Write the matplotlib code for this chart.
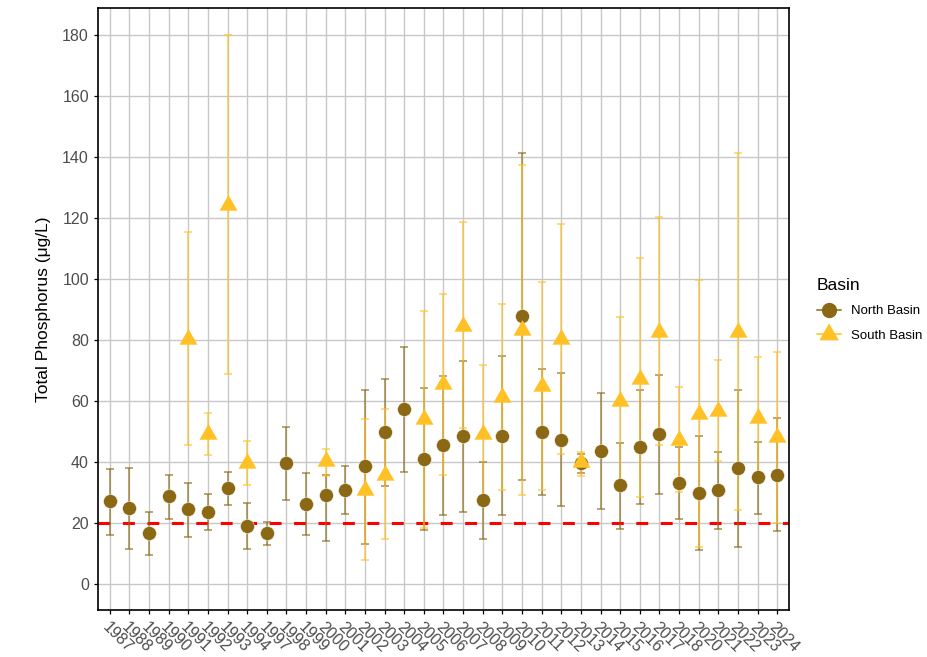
import numpy as np
import matplotlib
matplotlib.use("Agg")
import matplotlib.pyplot as plt
from matplotlib.lines import Line2D

plt.rcParams['font.family'] = ['Liberation Sans', 'DejaVu Sans']
plt.rcParams['lines.scale_dashes'] = False

nan = np.nan

years = ['1987', '1988', '1989', '1990', '1991', '1992', '1993', '1994', '1997', '1998',
         '1999', '2000', '2001', '2002', '2003', '2004', '2005', '2006', '2007', '2008',
         '2009', '2010', '2011', '2012', '2013', '2014', '2015', '2016', '2017', '2018',
         '2020', '2021', '2022', '2023', '2024']

# North Basin: mean, lower, upper
north_mean = [27.0, 24.7, 16.5, 28.7, 24.4, 23.5, 31.3, 18.9, 16.5, 39.5,
              26.1, 29.1, 30.7, 38.7, 49.7, 57.2, 41.0, 45.4, 48.4, 27.5,
              48.6, 87.8, 49.7, 47.3, 39.6, 43.6, 32.5, 44.9, 49.1, 33.1,
              29.8, 30.8, 37.9, 34.9, 35.8]
north_lo = [16.1, 11.3, 9.5, 21.2, 15.5, 17.7, 25.8, 11.5, 12.7, 27.4,
            16.1, 14.1, 23.0, 13.2, 32.2, 36.6, 17.6, 22.5, 23.5, 14.8,
            22.5, 34.1, 29.1, 25.4, 36.2, 24.4, 18.1, 26.1, 29.4, 21.3,
            11.1, 18.1, 12.1, 23.0, 17.4]
north_hi = [37.5, 38.0, 23.5, 35.8, 33.0, 29.3, 36.5, 26.6, 20.1, 51.5,
            36.2, 35.6, 38.6, 63.7, 67.2, 77.7, 64.3, 68.1, 73.1, 39.8,
            74.6, 141.3, 70.5, 69.1, 42.5, 62.6, 46.3, 63.5, 68.5, 44.9,
            48.4, 43.3, 63.5, 46.4, 54.4]

# South Basin: mean, lower, upper (nan = no sample)
south_mean = [nan, nan, nan, nan, 80.4, 49.0, 124.3, 39.5, nan, nan,
              nan, 40.2, nan, 30.7, 35.8, nan, 53.9, 65.6, 84.5, 49.0,
              61.1, 83.2, 64.8, 80.1, 40.0, nan, 59.9, 67.3, 82.6, 47.3,
              55.8, 56.8, 82.6, 54.4, 48.0]
south_lo = [nan, nan, nan, nan, 45.5, 42.3, 68.7, 32.3, nan, nan,
            nan, 35.4, nan, 7.8, 14.6, nan, 18.4, 35.6, 51.2, 26.8,
            30.7, 29.1, 30.7, 42.6, 35.4, nan, 32.7, 28.3, 45.5, 30.0,
            12.1, 40.3, 24.2, 35.1, 20.0]
south_hi = [nan, nan, nan, nan, 115.4, 56.0, 179.8, 46.9, nan, nan,
            nan, 44.3, nan, 54.0, 57.4, nan, 89.5, 95.0, 118.5, 71.6,
            91.8, 137.4, 99.1, 118.0, 43.3, nan, 87.6, 106.8, 120.3, 64.6,
            99.7, 73.3, 141.4, 74.2, 76.1]

threshold = 20

north_col = '#8B6914'
south_col = '#FFC125'
tri = [(0, 1), (-0.866, -0.5), (0.866, -0.5)]

fig = plt.figure(figsize=(9.28, 6.57), dpi=100)
ax = fig.add_axes([98 / 928, 1 - 610 / 657, (789 - 98) / 928, (610 - 8) / 657])

x = np.arange(len(years))
nm = np.array(north_mean); sm = np.array(south_mean)
nerr = [nm - np.array(north_lo), np.array(north_hi) - nm]
serr = [sm - np.array(south_lo), np.array(south_hi) - sm]

ax.errorbar(x, nm, yerr=nerr, fmt='none', ecolor=north_col, alpha=0.75,
            elinewidth=1.1, capsize=2.6, capthick=1.1, zorder=3)
ax.errorbar(x, sm, yerr=serr, fmt='none', ecolor=south_col, alpha=0.75,
            elinewidth=1.1, capsize=2.6, capthick=1.1, zorder=3)
ax.plot(x, nm, linestyle='none', marker='o', ms=10, color=north_col,
        markeredgecolor='white', markeredgewidth=0.3, zorder=4)
ax.plot(x, sm, linestyle='none', marker=tri, ms=15, color=south_col,
        markeredgewidth=0, zorder=5)

ax.axhline(threshold, color='#FF0000', lw=2.2, dashes=(8.6, 9.0), zorder=2)

ax.set_xlim(-0.6, len(years) - 1 + 0.6)
ax.set_ylim(-8.6, 188.8)
ax.set_yticks(np.arange(0, 181, 20))
ax.set_xticks(x)
ax.set_xticklabels(years, rotation=-45, ha='left', va='top', rotation_mode='anchor')
ax.grid(True, color='#C8C8C8', lw=1.0, zorder=0)
ax.set_axisbelow(True)
for s in ax.spines.values():
    s.set_color('black')
    s.set_linewidth(1.2)
ax.tick_params(axis='both', colors='black', labelcolor='#4D4D4D', labelsize=11.5,
               length=3, width=0.9)
ax.set_ylabel('Total Phosphorus (μg/L)', fontsize=12.5, color='black', labelpad=8)

handles = [
    Line2D([0], [0], color=north_col, marker='o', ms=10, lw=1.1, label='North Basin'),
    Line2D([0], [0], color=south_col, marker=tri, ms=15, lw=1.1, label='South Basin'),
]
leg = fig.legend(handles=handles, title='Basin', loc='center left',
                 bbox_to_anchor=(805 / 928, 1 - 310 / 657), frameon=False,
                 fontsize=9.5, title_fontsize=12.5, handlelength=1.8,
                 labelspacing=0.9, handletextpad=0.8)
leg._legend_box.align = 'left'

fig.savefig('out.png', dpi=100)
